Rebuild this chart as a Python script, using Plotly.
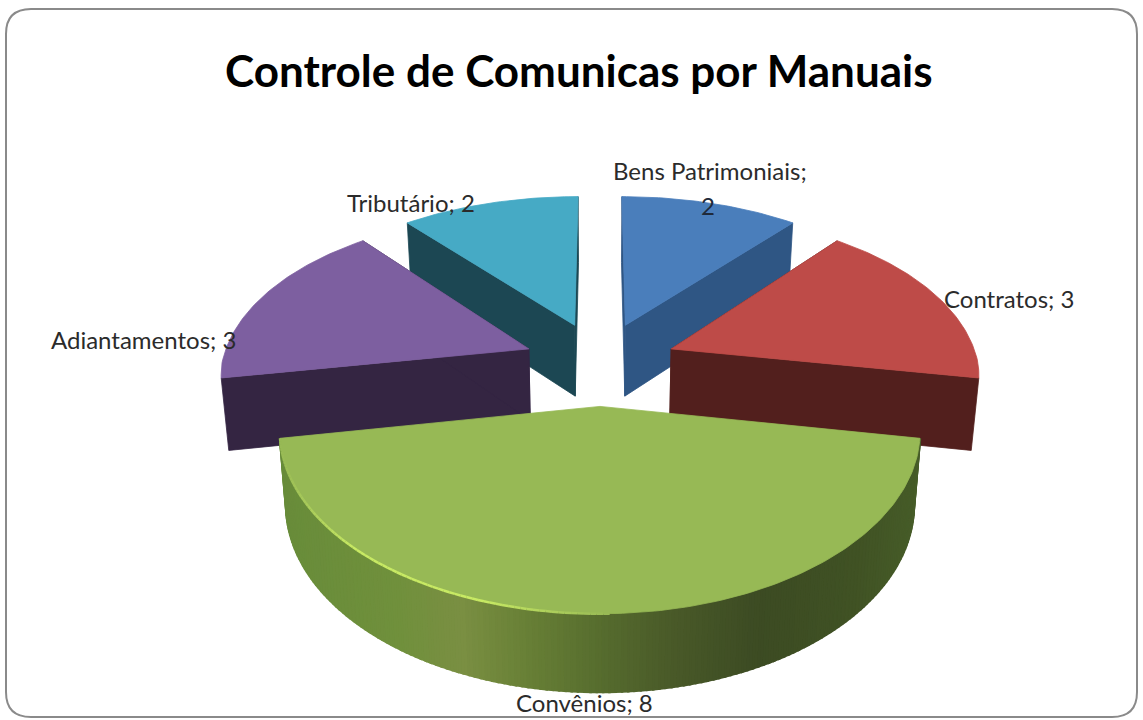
import numpy as np
import plotly.graph_objects as go

TITLE = "Controle de Comunicas por Manuais"
categories = ["Bens Patrimoniais", "Contratos", "Convênios", "Adiantamentos", "Tributário"]
values = [2, 3, 8, 3, 2]
top_colors = ["#4A7EBB", "#BE4B48", "#97B955", "#7D5FA0", "#46AAC5"]
wall_colors = ["#2F5684", "#521F1D", "#5F7A33", "#342542", "#1C4753"]

# projection of the tilted, exploded pie onto the 1143x720 page
CX, CY, AX, AY = 600, 363, 307, 168
K_FAR_X, K_FAR_Y, K_NEAR = 0.16, 0.20, 0.13
EXPLODE = 0.25
WALL_H, WALL_SLOPE, WALL_SHRINK = 72, 5, 0.98

rim_stops = [(0.00, (104, 140, 58)), (0.18, (112, 144, 60)), (0.28, (122, 143, 66)),
             (0.38, (104, 128, 54)), (0.50, (86, 108, 46)), (0.62, (72, 88, 40)),
             (0.75, (60, 75, 35)), (0.90, (64, 82, 36)), (1.00, (70, 92, 40))]


def project(u, v, depth=False):
    u, v = np.asarray(u, float), np.asarray(v, float)
    dy = np.where(v >= 0, 1 + K_FAR_Y * v, 1 + K_NEAR * v)
    dx = np.where(v >= 0, 1 + K_FAR_X * v, 1 + K_NEAR * v)
    x = CX + AX * u / dx
    y = CY - AY * v / dy
    if depth:
        x = CX + (x - CX) * WALL_SHRINK
        y = y + WALL_H - WALL_SLOPE * v
    return x, y


def mix(t):
    for (a, ca), (b, cb) in zip(rim_stops, rim_stops[1:]):
        if t <= b:
            f = (t - a) / (b - a)
            c = [round(p + (q - p) * f) for p, q in zip(ca, cb)]
            return f"rgb({c[0]},{c[1]},{c[2]})"
    return "rgb(70,92,40)"


def poly(fig, x, y, color, lw=0.8):
    fig.add_trace(go.Scatter(x=list(x) + [x[0]], y=list(y) + [y[0]], mode="lines", fill="toself",
                             fillcolor=color, line=dict(color=color, width=lw),
                             hoverinfo="skip", showlegend=False))


fig = go.Figure()

edges = np.cumsum([0] + values) / sum(values) * 360.0
slices = []
for i, (val, c_top, c_wall) in enumerate(zip(values, top_colors, wall_colors)):
    a0, a1 = np.radians(edges[i]), np.radians(edges[i + 1])
    mid = (a0 + a1) / 2
    slices.append(dict(i=i, a0=a0, a1=a1, eu=EXPLODE * np.sin(mid), ev=EXPLODE * np.cos(mid),
                       top=c_top, wall=c_wall))

# back slices first
for s in sorted(slices, key=lambda d: -d["ev"]):
    th = np.linspace(s["a0"], s["a1"], max(12, int(np.degrees(s["a1"] - s["a0"]))))
    u = s["eu"] + np.sin(th)
    v = s["ev"] + np.cos(th)
    big = np.degrees(s["a1"] - s["a0"]) >= 100
    if not big:
        for k in (0, -1):
            xa, ya = project([s["eu"], u[k]], [s["ev"], v[k]])
            xb, yb = project([s["eu"], u[k]], [s["ev"], v[k]], depth=True)
            poly(fig, [xa[0], xa[1], xb[1], xb[0]], [ya[0], ya[1], yb[1], yb[0]], s["wall"])
    else:
        xt, yt = project(u, v)
        xb, yb = project(u, v, depth=True)
        span = xt.max() - xt.min()
        for j in range(len(th) - 1, 0, -1):
            t = (xt[j] - xt.min()) / span
            poly(fig, [xt[j], xt[j - 1], xb[j - 1], xb[j]], [yt[j], yt[j - 1], yb[j - 1], yb[j]], mix(t), lw=2.5)
    xt, yt = project(np.r_[s["eu"], u], np.r_[s["ev"], v])
    poly(fig, xt, yt, s["top"])
    if big:
        xt, yt = project(u, v)
        span = xt.max() - xt.min()
        for j in range(len(th) - 1):
            t = (xt[j] - xt.min()) / span
            if t < 0.52:
                f = np.clip(min(t / 0.12, (0.52 - t) / 0.2), 0, 1)
                col = f"rgb({round(151 + 49 * f)},{round(185 + 49 * f)},{round(85 + 15 * f)})"
                fig.add_trace(go.Scatter(x=xt[j:j + 2], y=yt[j:j + 2], mode="lines",
                                         line=dict(color=col, width=2.5),
                                         hoverinfo="skip", showlegend=False))

label_pos = {"Bens Patrimoniais": (710, 170), "Contratos": (1009, 298), "Convênios": (584, 702),
             "Adiantamentos": (143, 339), "Tributário": (411, 202)}
annotations = [dict(x=708, y=205, text=str(values[0]), xref="x", yref="y", showarrow=False,
                    font=dict(family="Lato", size=24, color="#1f2a3a"))]
for cat, val in zip(categories, values):
    x, y = label_pos[cat]
    txt = f"{cat};" if cat == categories[0] else f"{cat}; {val}"
    annotations.append(dict(x=x, y=y, text=txt, xref="x", yref="y", showarrow=False,
                            font=dict(family="Lato", size=24, color="#2b2b2b")))
annotations.append(dict(x=579, y=70, text=f"<b>{TITLE}</b>", xref="x", yref="y", showarrow=False,
                        font=dict(family="Lato", size=44, color="#000000")))

card = "M 31 9 L 1112 9 Q 1137 9 1137 34 L 1137 692 Q 1137 717 1112 717 L 31 717 Q 6 717 6 692 L 6 34 Q 6 9 31 9 Z"
fig.update_layout(
    width=1143, height=720, margin=dict(l=0, r=0, t=0, b=0),
    paper_bgcolor="#ffffff", plot_bgcolor="#ffffff", showlegend=False,
    xaxis=dict(range=[0, 1143], visible=False, fixedrange=True),
    yaxis=dict(range=[720, 0], visible=False, fixedrange=True),
    shapes=[dict(type="path", path=card, xref="x", yref="y", layer="below",
                 line=dict(color="#8a8a8a", width=2), fillcolor="#ffffff")],
    annotations=annotations,
)
fig.write_html("out.html", post_script="document.body.style.margin='0';",
               config={"displayModeBar": False})
